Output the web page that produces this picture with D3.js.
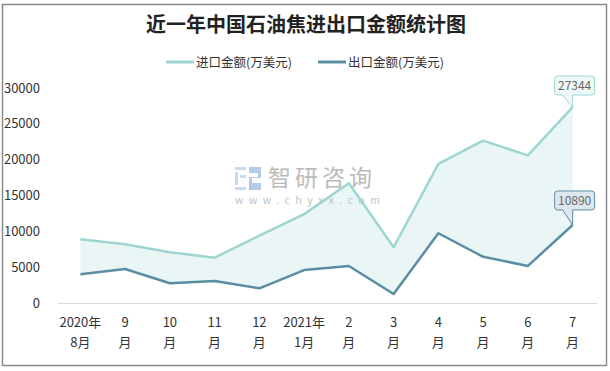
<!DOCTYPE html>
<html><head><meta charset="utf-8">
<script src="https://cdn.jsdelivr.net/npm/d3@7"></script>
<style>body{margin:0;background:#fff}svg{display:block}</style>
</head><body><svg id="c" width="610" height="371"></svg>
<script>
const title = "近一年中国石油焦进出口金额统计图";
const seriesNames = ["进口金额(万美元)", "出口金额(万美元)"];
const months = ["2020年8月","9月","10月","11月","12月","2021年1月","2月","3月","4月","5月","6月","7月"];
const tickLine1 = ["2020年","9","10","11","12","2021年","2","3","4","5","6","7"];
const tickLine2 = ["8月","月","月","月","月","1月","月","月","月","月","月","月"];
const importValues = [8900, 8200, 7080, 6330, 9400, 12400, 16700, 7780, 19400, 22650, 20600, 27344];
const exportValues = [4010, 4750, 2750, 3070, 2050, 4600, 5170, 1260, 9730, 6450, 5170, 10890];
const yTicks = [0, 5000, 10000, 15000, 20000, 25000, 30000];

const FONT = "'Noto Sans CJK SC','Noto Sans',sans-serif";
const cImport = "#9dd6d1", cExport = "#5a8ea3", cFill = "#eaf6f6";
const svg = d3.select("#c");

// border
svg.append("rect").attr("x",2.5).attr("y",4.5).attr("width",604).attr("height",361)
  .attr("fill","#fff").attr("stroke","#8a8a8a").attr("stroke-width",1.5);

const x = d3.scaleBand().domain(months).range([58, 595]).padding(0);
const y = d3.scaleLinear().domain([0, 30000]).range([303, 88]);
const cx = d => x(d) + x.bandwidth()/2;

// title
svg.append("text").attr("x",306).attr("y",32).attr("text-anchor","middle")
  .attr("font-family",FONT).attr("font-weight","bold").attr("font-size",20).attr("fill","#222").text(title);

// legend
const leg = [{x:166, c:cImport, t:seriesNames[0]}, {x:318, c:cExport, t:seriesNames[1]}];
leg.forEach(l=>{
  svg.append("line").attr("x1",l.x).attr("x2",l.x+28).attr("y1",62).attr("y2",62)
    .attr("stroke",l.c).attr("stroke-width",3);
  svg.append("text").attr("x",l.x+30).attr("y",66.5).attr("font-family",FONT).attr("font-size",12.5)
    .attr("fill","#333").text(l.t);
});

// y axis labels
svg.append("g").selectAll("text").data(yTicks).join("text")
  .attr("x",40).attr("y",d=>y(d)+4.5).attr("text-anchor","end")
  .attr("font-family",FONT).attr("font-size",13).attr("fill","#333").text(d=>d);

// x axis line
svg.append("line").attr("x1",58).attr("x2",597).attr("y1",303.5).attr("y2",303.5)
  .attr("stroke","#d9d9d9").attr("stroke-width",1);

// x labels
const xl = svg.append("g").selectAll("g").data(months).join("g");
xl.append("text").attr("x",d=>cx(d)).attr("y",327).attr("text-anchor","middle")
  .attr("font-family",FONT).attr("font-size",13).attr("fill","#333").text((d,i)=>tickLine1[i]);
xl.append("text").attr("x",d=>cx(d)).attr("y",347).attr("text-anchor","middle")
  .attr("font-family",FONT).attr("font-size",13).attr("fill","#333").text((d,i)=>tickLine2[i]);

// area between
const rows = months.map((m,i)=>({m, imp:importValues[i], exp:exportValues[i]}));
svg.append("path").datum(rows).attr("fill",cFill)
  .attr("d", d3.area().x(d=>cx(d.m)).y0(d=>y(d.exp)).y1(d=>y(d.imp)));

// watermark
const wm = svg.append("g").attr("opacity",0.85);
wm.append("rect").attr("x",235).attr("y",167).attr("width",11).attr("height",3).attr("fill","#c3d3ea");
wm.append("rect").attr("x",235).attr("y",172).attr("width",3).attr("height",13).attr("fill","#c3d3ea");
wm.append("rect").attr("x",240).attr("y",175).attr("width",6).attr("height",3).attr("fill","#c3d3ea");
wm.append("rect").attr("x",235).attr("y",187).attr("width",11).attr("height",3).attr("fill","#c3d3ea");
wm.append("path").attr("d","M249,167 h12 v11 h-9 v5 h9 v7 h-12 v-13 h9 v-4 h-9 z").attr("fill","#a9c1e3");
wm.append("text").attr("x",268).attr("y",186).attr("font-family",FONT).attr("font-size",23)
  .attr("letter-spacing",4).attr("fill","#b0b0b0").text("智研咨询");
wm.append("text").attr("x",235).attr("y",203.5).attr("font-family",FONT).attr("font-size",10.5)
  .attr("letter-spacing",5.5).attr("fill","#b8b8b8").text("www.chyxx.com");

// lines
const line = key => d3.line().x(d=>cx(d.m)).y(d=>y(d[key]));
svg.append("path").datum(rows).attr("fill","none").attr("stroke",cImport).attr("stroke-width",2.5)
  .attr("stroke-linejoin","round").attr("d",line("imp"));
svg.append("path").datum(rows).attr("fill","none").attr("stroke",cExport).attr("stroke-width",2.5)
  .attr("stroke-linejoin","round").attr("d",line("exp"));

// callouts
function callout(val, stroke, fill, yOffset){
  const last = months[months.length-1];
  const px = cx(last), py = y(val);
  const bx = px - 18, bw = 40, bh = 19, by = py - yOffset - bh;
  const r = 3;
  const p = `M${bx+r},${by} H${bx+bw-r} Q${bx+bw},${by} ${bx+bw},${by+r} V${by+bh-r} Q${bx+bw},${by+bh} ${bx+bw-r},${by+bh}
   H${px} L${px},${py} L${px-10},${by+bh} H${bx+r} Q${bx},${by+bh} ${bx},${by+bh-r} V${by+r} Q${bx},${by} ${bx+r},${by} Z`;
  svg.append("path").attr("d",p).attr("fill",fill).attr("stroke",stroke).attr("stroke-width",1);
  svg.append("text").attr("x",bx+bw/2).attr("y",by+14).attr("text-anchor","middle")
    .attr("font-family",FONT).attr("font-size",12).attr("fill","#666").text(val);
}
callout(importValues[importValues.length-1], cImport, "#eef8f8", 12);
callout(exportValues[exportValues.length-1], cExport, "#dfe7ee", 15);
</script></body></html>
